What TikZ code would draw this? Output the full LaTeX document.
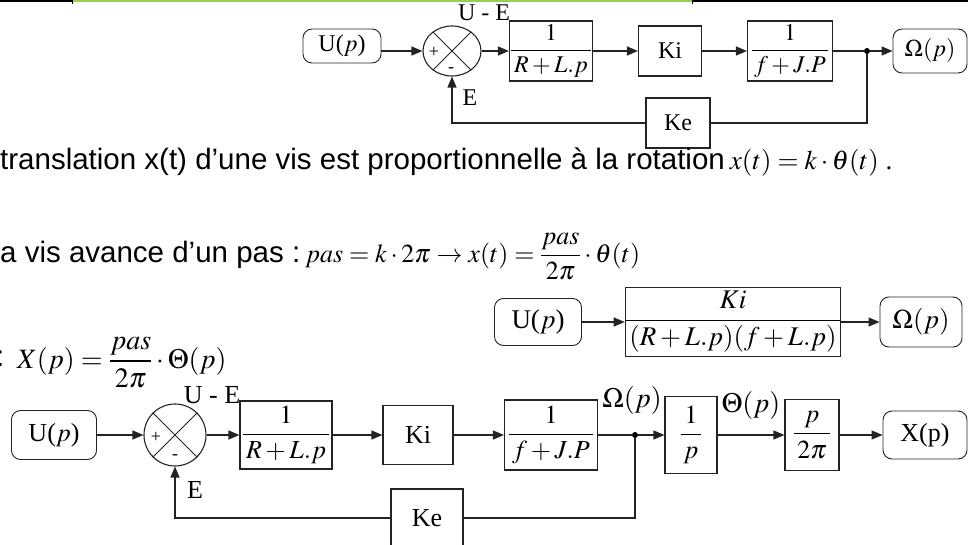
\documentclass[tikz,border=0pt]{standalone}
\usepackage{amsmath}
\usepackage{mathptmx}
\usepackage{fontspec}
\setmainfont{Liberation Serif}
\setsansfont{Liberation Sans}
\usetikzlibrary{arrows.meta,positioning,shapes.geometric}
\definecolor{wiregray}{RGB}{35,35,35}
\definecolor{rulegreen}{RGB}{146,208,80}
\newcommand{\blkfrac}[2]{$\displaystyle\frac{#1}{\,#2\,}$}
\newcommand{\fsz}[1]{\fontsize{#1}{#1}\selectfont}

\begin{document}
\begin{tikzpicture}[x=1pt,y=-1pt]
\tikzset{
  ioblock/.style={draw=wiregray,line width=0.9pt,rounded corners=9pt,inner sep=0pt},
  tfblock/.style={draw=wiregray,line width=1.1pt,inner sep=0pt},
  sumnode/.style={draw=wiregray,line width=1.1pt,inner sep=0pt},
  wire/.style={draw=wiregray,line width=1.2pt},
  directed/.style={wire,-{Triangle[length=11pt,width=9pt]}},
  branchdot/.style={circle,fill=black,inner sep=0pt,minimum size=6pt},
  siglabel/.style={inner sep=0pt},
  signmark/.style={inner sep=0pt,font=\fsz{18}},
  textline/.style={anchor=base west,inner sep=0pt,font=\sffamily\fsz{29.5}}
}
\useasboundingbox (0,0) rectangle (968,545);
\draw[line width=2pt] (0,1) -- (72,1);
\draw[rulegreen,line width=3pt] (72,1) -- (692,1);
\draw[line width=2pt] (692,1) -- (968,1);
\draw[line width=1pt] (72,0) -- (72,4) (692,0) -- (692,4);

\begin{scope}[font=\fsz{24}]
\node[ioblock,minimum width=78pt,minimum height=34pt] (t_U) at (342,46) {U($p$)};
\node[sumnode,ellipse,minimum width=58pt,minimum height=50pt] (t_S) at (452,51) {};
\draw[wire,line width=0.9pt] (t_S.135) -- (t_S.-45) (t_S.45) -- (t_S.-135);
\node[signmark] (t_plus) at (434,52) {+};
\node[signmark] (t_minus) at (451,70) {-};
\node[tfblock,minimum width=83pt,minimum height=60pt] (t_B1) at (551,51) {\blkfrac{1}{R+L.p}};
\node[tfblock,minimum width=63pt,minimum height=50pt] (t_Ki) at (670,51) {Ki};
\node[tfblock,minimum width=85pt,minimum height=60pt] (t_B3) at (790,51) {\blkfrac{1}{f+J.P}};
\node[branchdot] (t_dot) at (867,51) {};
\node[ioblock,minimum width=74pt,minimum height=44pt] (t_W) at (930,51) {$\Omega(p)$};
\node[tfblock,minimum width=64pt,minimum height=50pt] (t_Ke) at (678,123) {Ke};
\node[siglabel] (t_UE) at (484,13) {U - E};
\node[siglabel] (t_E) at (470,98) {E};
\end{scope}
\draw[directed] (t_U.east |- t_S) -- (t_S);
\draw[directed] (t_S) -- (t_B1);
\draw[directed] (t_B1) -- (t_Ki);
\draw[directed] (t_Ki) -- (t_B3);
\draw[wire] (t_B3) -- (t_dot);
\draw[directed] (t_dot) -- (t_W);
\draw[wire] (t_dot) |- (t_Ke);
\draw[directed] (t_Ke) -| (t_S);

\node[textline] (txt_rot) at (0,170) {translation x(t) d’une vis est proportionnelle à la rotation\,{\rmfamily\fsz{27}$x(t)=k\cdot\theta(t)$ .}};
\node[textline] (txt_pas) at (0,262) {a vis avance d’un pas :\,{\rmfamily\fsz{26}$pas=k\cdot 2\pi\rightarrow x(t)=\dfrac{pas}{2\pi}\cdot\theta(t)$}};
\node[textline,anchor=base east] (txt_cut) at (4.5,366) {:};
\node[anchor=base west,inner sep=0pt,font=\fsz{28}] (txt_X) at (17,368) {$X(p)=\dfrac{pas}{2\pi}\cdot\Theta(p)$};

\begin{scope}[font=\fsz{27}]
\node[ioblock,minimum width=87pt,minimum height=47pt] (m_U) at (538,322) {U($p$)};
\node[tfblock,minimum width=207pt,minimum height=69pt] (m_G) at (733,322) {\blkfrac{Ki}{(R+L.p)(f+L.p)}};
\node[ioblock,minimum width=82pt,minimum height=50pt] (m_W) at (921,322) {$\Omega(p)$};
\end{scope}
\draw[directed] (m_U) -- (m_G);
\draw[directed] (m_G) -- (m_W);

\begin{scope}[font=\fsz{26}]
\node[ioblock,minimum width=85pt,minimum height=49pt] (b_U) at (54,435) {U($p$)};
\node[sumnode,circle,minimum size=62pt] (b_S) at (175,435) {};
\draw[wire,line width=0.9pt] (b_S.135) -- (b_S.-45) (b_S.45) -- (b_S.-135);
\node[signmark] (b_plus) at (156,437) {+};
\node[signmark] (b_minus) at (175,457) {-};
\node[tfblock,minimum width=92pt,minimum height=68pt] (b_B1) at (286,435) {\blkfrac{1}{R+L.p}};
\node[tfblock,minimum width=70pt,minimum height=59pt] (b_Ki) at (418,435) {Ki};
\node[tfblock,minimum width=93pt,minimum height=70pt] (b_B3) at (551,435) {\blkfrac{1}{f+J.P}};
\node[branchdot] (b_dot) at (635,435) {};
\node[tfblock,minimum width=52pt,minimum height=77pt] (b_Int) at (691,435) {\blkfrac{1}{p}};
\node[tfblock,minimum width=54pt,minimum height=71pt] (b_Sc) at (812,435) {\blkfrac{p}{2\pi}};
\node[ioblock,minimum width=84pt,minimum height=48pt] (b_X) at (925,435) {X(p)};
\node[tfblock,minimum width=72pt,minimum height=58pt] (b_Ke) at (427,518) {Ke};
\node[siglabel] (b_UE) at (212,395) {U - E};
\node[siglabel] (b_E) at (195,490) {E};
\node[siglabel,font=\fsz{28}] (b_Wl) at (632,400) {$\Omega(p)$};
\node[siglabel,font=\fsz{28}] (b_Tl) at (751,405) {$\Theta(p)$};
\end{scope}
\draw[directed] (b_U) -- (b_S);
\draw[directed] (b_S) -- (b_B1);
\draw[directed] (b_B1) -- (b_Ki);
\draw[directed] (b_Ki) -- (b_B3);
\draw[wire] (b_B3) -- (b_dot);
\draw[directed] (b_dot) -- (b_Int);
\draw[directed] (b_Int) -- (b_Sc);
\draw[directed] (b_Sc) -- (b_X);
\draw[wire] (b_dot) |- (b_Ke);
\draw[directed] (b_Ke) -| (b_S);
\end{tikzpicture}
\end{document}
